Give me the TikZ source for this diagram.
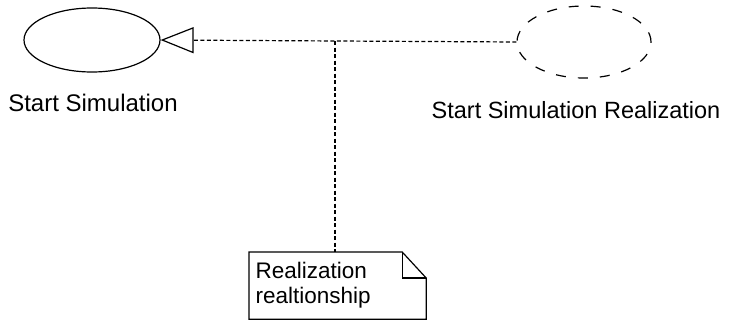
\documentclass[tikz,border=0pt]{standalone}
\usepackage{fontspec}
\setmainfont{Liberation Sans}
\usetikzlibrary{shapes.geometric,arrows.meta,positioning}
\begin{document}
\begin{tikzpicture}[x=1pt, y=-1pt, line width=1.2pt,
        usecase/.style={ellipse, draw=black, minimum width=136pt, minimum height=64pt, inner sep=0pt},
        dotline/.style={dash pattern=on 4pt off 2.5pt},
        realize/.style={dotline, -{Triangle[open, length=33pt, width=26pt]}},
        caption/.style={font=\fontsize{24}{28}\selectfont, inner sep=0pt},
        notetext/.style={font=\fontsize{22.5}{25}\selectfont}]
    \useasboundingbox (0,0) rectangle (737,330);

    % Use cases
    \node[usecase] (sim) at (92,40) {};
    \node[usecase, dash pattern=on 10pt off 12pt, minimum width=134pt, minimum height=72pt] (simreal) at (584,42) {};

    % Labels
    \node[caption] (simlabel) at (93,103) {Start Simulation};
    \node[caption, font=\fontsize{23.5}{28}\selectfont] (simreallabel) at (576,110) {Start Simulation Realization};

    % Realization
    \draw[realize] (simreal.west) -- (sim.east);
    \coordinate (junc) at (335,41);

    % Note
    \node[notetext, anchor=north west, align=left, text width=164pt,
          inner xsep=6pt, inner ysep=10pt] (note) at (249,252)
        {Realization\\realtionship};
    \draw (note.north west) -- ([xshift=-24pt]note.north east) -- ([yshift=-26pt]note.north east)
        -- (note.south east) -- (note.south west) -- cycle;
    \draw ([xshift=-24pt]note.north east) -- ([xshift=-24pt, yshift=-26pt]note.north east)
        -- ([yshift=-26pt]note.north east);
    \draw[dotline] (junc) -- (junc |- note.north);
\end{tikzpicture}
\end{document}
